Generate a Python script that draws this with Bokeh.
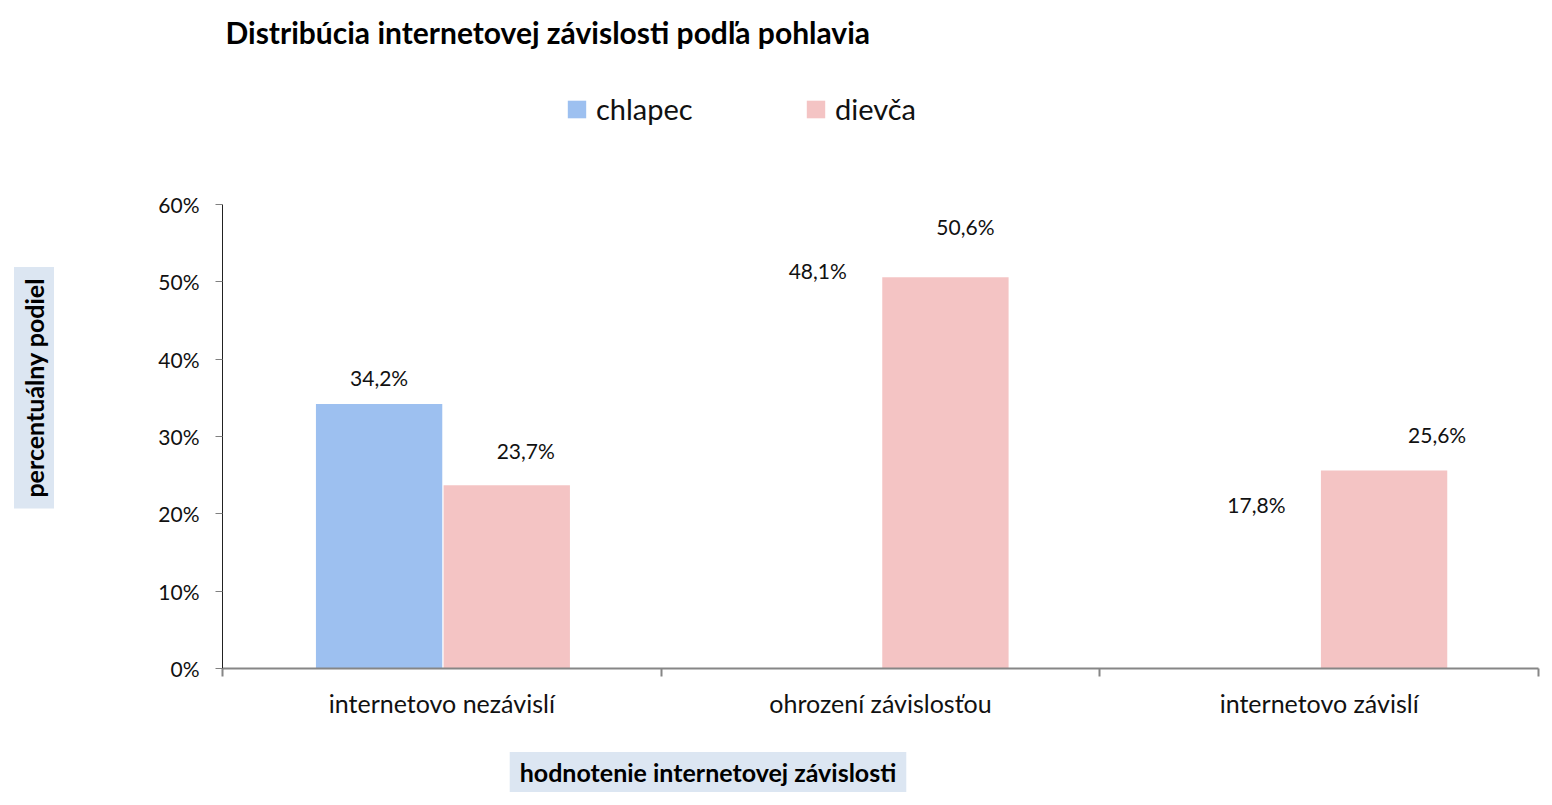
import numpy as np
from bokeh.plotting import figure
from bokeh.layouts import column, row
from bokeh.models import (ColumnDataSource, Range1d, FixedTicker, Label, LabelSet,
                          Legend, LegendItem, CustomJSTickFormatter)
from bokeh.core.properties import value
from bokeh.embed import file_html
from bokeh.resources import INLINE

# ---- data ----
categories = ["internetovo nezávislí", "ohrození závislosťou", "internetovo závislí"]
series_names = ["chlapec", "dievča"]
chlapec = [34.2, 48.1, 17.8]
dievca = [23.7, 50.6, 25.6]
chlapec_visible = [1, 0, 0]   # only the first boy bar is visible in the original
y_ticks = [0, 10, 20, 30, 40, 50, 60]
title_text = "Distribúcia internetovej závislosti podľa pohlavia"
x_title = "hodnotenie internetovej závislosti"
y_title = "percentuálny podiel"

FONT = "Lato"
BLUE = "#9DC0F0"
PINK = "#F4C4C4"
BOX = "#DCE6F2"
TXT = "#111111"

W, H = 1552, 805
TOP_H, BOT_H, LEFT_W = 140, 60, 60
MID_H = H - TOP_H - BOT_H


def fmt(v):
    return ("%.1f%%" % v).replace(".", ",")


def blank(w, h):
    f = figure(width=w, height=h, x_range=Range1d(0, w), y_range=Range1d(h, 0),
               x_axis_type=None, y_axis_type=None, output_backend="svg",
               toolbar_location=None, min_border=0, outline_line_color=None,
               background_fill_color="white", border_fill_color="white")
    return f


# ---- top: title + legend ----
top = blank(W, TOP_H)
top.add_layout(Label(x=225, y=31, text=title_text, text_font=FONT,
                     text_font_size="30px", text_font_style="bold",
                     text_baseline="middle", text_align="left", text_color="#000000"))
# legend swatches (zero-height bars, only used as legend glyphs)
dummy_b = top.vbar(x=[0], top=[0], bottom=[0], width=0, fill_color=BLUE, line_color=None)
dummy_g = top.vbar(x=[0], top=[0], bottom=[0], width=0, fill_color=PINK, line_color=None)
legend = Legend(items=[LegendItem(label=series_names[0], renderers=[dummy_b]),
                       LegendItem(label=series_names[1], renderers=[dummy_g])],
                orientation="horizontal", location=(565, TOP_H - 126),
                glyph_width=23, glyph_height=22, label_standoff=8,
                label_width=208, spacing=0, padding=0, margin=0,
                border_line_color=None, background_fill_alpha=0,
                label_text_font=FONT, label_text_font_size="29px",
                label_text_color=TXT)
top.add_layout(legend, "center")

# ---- left: y axis title ----
left = blank(LEFT_W, MID_H)
left.add_layout(Label(x=33.5, y=379 - TOP_H, angle=np.pi / 2, text=y_title,
                      text_font=FONT, text_font_size="25px", text_font_style="bold",
                      text_align="center", text_baseline="middle", text_color="#000000",
                      background_fill_color=BOX, padding=(11, 5)))

# ---- main chart ----
xc = np.arange(len(categories)) + 0.5
src_b = ColumnDataSource(dict(x=xc - 0.143, top=chlapec, alpha=chlapec_visible,
                              lab=[fmt(v) for v in chlapec]))
src_g = ColumnDataSource(dict(x=xc + 0.148, top=dievca,
                              lab=[fmt(v) for v in dievca],
                              dx=[19, 20, 53], dy=[26, 42, 28]))

p = figure(width=W - LEFT_W, height=MID_H, output_backend="svg", toolbar_location=None,
           x_range=Range1d(0, len(categories)), y_range=Range1d(0, 60),
           min_border_left=222 - LEFT_W, min_border_right=W - 1538,
           min_border_top=204 - TOP_H, min_border_bottom=MID_H - (668 - TOP_H),
           outline_line_color=None, background_fill_color="white",
           border_fill_color="white")
p.xgrid.visible = False
p.ygrid.visible = False

p.vbar(x="x", top="top", width=0.288, source=src_b, fill_color=BLUE,
       fill_alpha="alpha", line_color=None)
p.vbar(x="x", top="top", width=0.288, source=src_g, fill_color=PINK, line_color=None)

p.add_layout(LabelSet(x="x", y="top", text="lab", source=src_b, y_offset=18,
                      text_align="center", text_baseline="alphabetic",
                      text_font=value(FONT), text_font_size="21px", text_color=TXT))
p.add_layout(LabelSet(x="x", y="top", text="lab", source=src_g, x_offset="dx",
                      y_offset="dy", text_align="center", text_baseline="alphabetic",
                      text_font=value(FONT), text_font_size="21px", text_color=TXT))

ya = p.yaxis[0]
ya.ticker = FixedTicker(ticks=y_ticks, minor_ticks=[])
ya.formatter = CustomJSTickFormatter(code="return tick.toFixed(0) + '%';")
ya.axis_line_color = "#222222"
ya.axis_line_width = 1
ya.major_tick_out = 7
ya.major_tick_in = 0
ya.major_tick_line_color = "#808080"
ya.minor_tick_out = 0
ya.minor_tick_in = 0
ya.major_label_standoff = 16
ya.major_label_text_font = FONT
ya.major_label_text_font_size = "21px"
ya.major_label_text_color = TXT

xa = p.xaxis[0]
xa.ticker = FixedTicker(ticks=list(xc), minor_ticks=list(range(len(categories) + 1)))
xa.major_label_overrides = {float(v): c for v, c in zip(xc, categories)}
xa.axis_line_color = "#868686"
xa.axis_line_width = 2
xa.major_tick_out = 0
xa.major_tick_in = 0
xa.minor_tick_out = 8
xa.minor_tick_in = 0
xa.minor_tick_line_color = "#868686"
xa.minor_tick_line_width = 2
xa.major_label_standoff = 11
xa.major_label_text_font = FONT
xa.major_label_text_font_size = "25px"
xa.major_label_text_color = TXT

# ---- bottom: x axis title ----
bottom = blank(W, BOT_H)
bottom.add_layout(Label(x=707.5, y=771.5 - (TOP_H + MID_H), text=x_title,
                        text_font=FONT, text_font_size="25px", text_font_style="bold",
                        text_align="center", text_baseline="middle", text_color="#000000",
                        background_fill_color=BOX, padding=(10, 5)))

layout = column(top, row(left, p), bottom)
open("out.html", "w").write(file_html(layout, INLINE))
